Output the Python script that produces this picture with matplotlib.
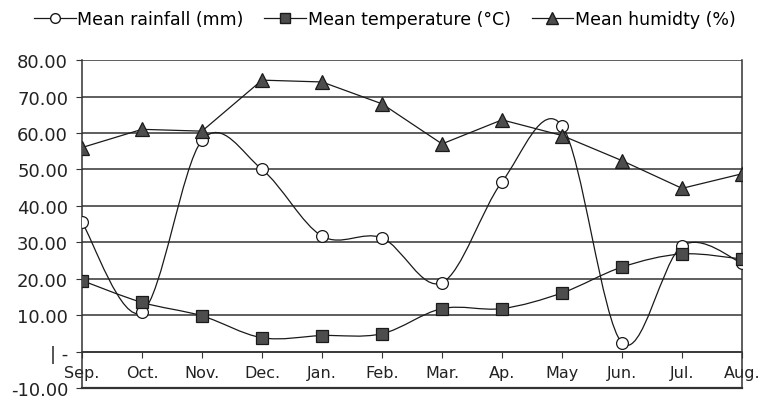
import matplotlib
matplotlib.use('Agg')
import matplotlib.pyplot as plt
from matplotlib.path import Path
from matplotlib.patches import PathPatch
from matplotlib.lines import Line2D
import numpy as np

months = ['Sep.', 'Oct.', 'Nov.', 'Dec.', 'Jan.', 'Feb.', 'Mar.', 'Ap.', 'May', 'Jun.', 'Jul.', 'Aug.']
rainfall = [35.5, 10.8, 58.0, 50.0, 31.7, 31.2, 18.9, 46.6, 62.0, 2.4, 29.0, 24.3]
temperature = [19.5, 13.5, 9.8, 3.8, 4.4, 4.9, 11.8, 11.8, 16.1, 23.2, 26.8, 25.4]
humidity = [56.0, 61.0, 60.5, 74.5, 74.0, 68.0, 57.0, 63.6, 59.3, 52.4, 44.8, 48.8]
yticks = [-10, 0, 10, 20, 30, 40, 50, 60, 70, 80]


def smooth_path(x, y):
    # excel-like smoothed line: catmull-rom segments as cubic beziers
    p = np.column_stack([x, y]).astype(float)
    ext = np.vstack([p[0], p, p[-1]])
    verts = [p[0]]
    codes = [Path.MOVETO]
    for i in range(len(p) - 1):
        p0, p1, p2, p3 = ext[i], ext[i + 1], ext[i + 2], ext[i + 3]
        verts += [p1 + (p2 - p0) / 6, p2 - (p3 - p1) / 6, p2]
        codes += [Path.CURVE4] * 3
    return Path(verts, codes)


fig = plt.figure(figsize=(7.62, 4.02), dpi=100)
ax = fig.add_axes([0.1076, 0.0323, 0.8662, 0.8157])

x = np.arange(len(months))
lc = '#1a1a1a'
fill = '#4d4d4d'

for yv in range(0, 81, 10):
    ax.axhline(yv, color='#333333', lw=1.1, zorder=1)

ax.add_patch(PathPatch(smooth_path(x, rainfall), facecolor='none', edgecolor=lc, lw=0.9, zorder=3))
ax.add_patch(PathPatch(smooth_path(x, temperature), facecolor='none', edgecolor=lc, lw=0.9, zorder=3))
ax.plot(x, humidity, color=lc, lw=0.9, zorder=3)

ax.plot(x, rainfall, ls='none', marker='o', ms=8.5, mfc='white', mec=lc, mew=0.9, zorder=5)
ax.plot(x, temperature, ls='none', marker='s', ms=8.5, mfc=fill, mec=lc, mew=0.9, zorder=5)
ax.plot(x, humidity, ls='none', marker='^', ms=10, mfc=fill, mec=lc, mew=0.9, zorder=5)

ax.set_xlim(0, len(months) - 1)
ax.set_ylim(-10, 80)
ax.set_yticks(yticks)
ax.set_yticklabels(['| -' if v == 0 else f'{v:.2f}' for v in yticks])
ax.set_xticks(x)
ax.set_xticklabels(months)

ax.spines['top'].set_visible(False)
ax.spines['bottom'].set_position(('data', 0))
for s in ['left', 'right', 'bottom']:
    ax.spines[s].set_color('#333333')
    ax.spines[s].set_linewidth(1.1)
ax.axhline(-10, color='#333333', lw=1.6, zorder=1, clip_on=False)

ax.tick_params(axis='y', direction='out', length=4, width=0.8, color='#333333',
               labelsize=13, pad=6, labelcolor='#222222')
ax.tick_params(axis='x', direction='out', length=4, width=0.8, color='#333333',
               labelsize=11.5, pad=6, labelcolor='#222222')

handles = [
    Line2D([], [], color=lc, lw=0.9, marker='o', ms=7, mfc='white', mec=lc),
    Line2D([], [], color=lc, lw=0.9, marker='s', ms=7, mfc=fill, mec=lc),
    Line2D([], [], color=lc, lw=0.9, marker='^', ms=8, mfc=fill, mec=lc),
]
labels = ['Mean rainfall (mm)', 'Mean temperature (°C)', 'Mean humidty (%)']
fig.legend(handles, labels, loc='center', bbox_to_anchor=(0.505, 0.95), ncol=3,
           frameon=False, handlelength=2.4, handletextpad=0.1, columnspacing=1.2,
           prop={'family': ['Liberation Sans Narrow', 'DejaVu Sans'], 'size': 12.5})

fig.savefig('out.png', dpi=100)
